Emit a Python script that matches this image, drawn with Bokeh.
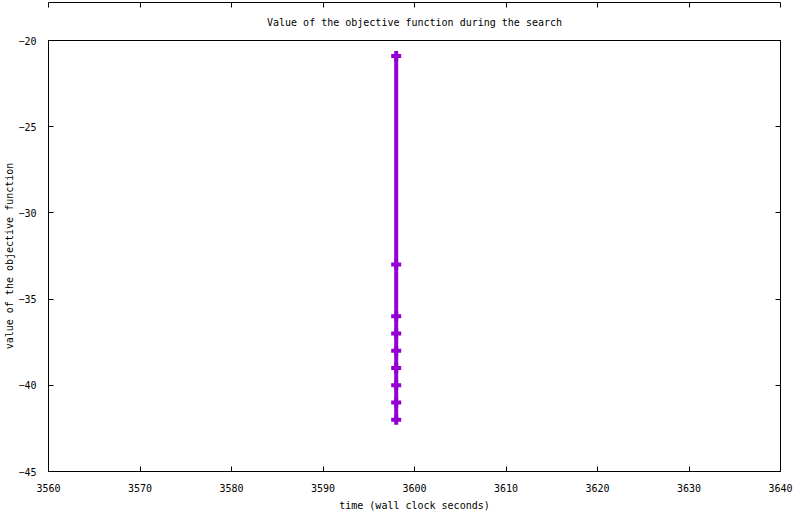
from bokeh.plotting import figure
from bokeh.models import LinearAxis, FixedTicker, Range1d, Title
from bokeh.embed import file_html
from bokeh.resources import INLINE

# data
times = [3598, 3598, 3598, 3598, 3598, 3598, 3598, 3598, 3598]
objective = [-20.9, -33, -36, -37, -38, -39, -40, -41, -42]
x_ticks = [3560, 3570, 3580, 3590, 3600, 3610, 3620, 3630, 3640]
y_ticks = [-45, -40, -35, -30, -25, -20]

FONT = "DejaVu Sans Mono"
COLOR = "#9400D3"

p = figure(width=800, height=514, output_backend="svg", toolbar_location=None,
           x_range=Range1d(3560, 3640), y_range=Range1d(-45, -20),
           min_border_left=48, min_border_right=20, min_border_top=40, min_border_bottom=43,
           x_axis_type=None, y_axis_type=None)
p.grid.visible = False
p.outline_line_color = "black"
p.outline_line_width = 1
p.background_fill_color = "white"
p.border_fill_color = "white"

t = Title(text="Value of the objective function during the search", align="center",
          text_font=FONT, text_font_size="10px", text_font_style="normal",
          text_color="black", standoff=25)
p.add_layout(t, "above")


def make_axis(ticks, labels=True, label_text=None, standoff=9, label_standoff=2):
    ax = LinearAxis(ticker=FixedTicker(ticks=ticks))
    ax.major_tick_in = 5
    ax.major_tick_out = 0
    ax.minor_tick_in = 0
    ax.minor_tick_out = 0
    ax.axis_line_color = "black"
    ax.major_tick_line_color = "black"
    ax.major_label_text_font = FONT
    ax.major_label_text_font_size = "10px"
    ax.major_label_text_color = "black"
    ax.major_label_standoff = standoff
    if not labels:
        ax.major_label_text_alpha = 0
        ax.major_label_text_font_size = "0px"
        ax.major_label_standoff = 0
    if label_text:
        ax.axis_label = label_text
        ax.axis_label_text_font = FONT
        ax.axis_label_text_font_size = "10px"
        ax.axis_label_text_font_style = "normal"
        ax.axis_label_text_color = "black"
        ax.axis_label_standoff = label_standoff
    return ax


p.add_layout(make_axis(x_ticks, True, "time (wall clock seconds)", standoff=12, label_standoff=5), "below")
p.add_layout(make_axis(y_ticks, True, "value of the objective function", standoff=12, label_standoff=0), "left")
p.add_layout(make_axis(x_ticks, False), "above")
p.add_layout(make_axis(y_ticks, False), "right")

p.line(times, objective, line_color=COLOR, line_width=4)
p.scatter(times, objective, marker="cross", size=10, line_color=COLOR, line_width=4)

open("out.html", "w").write(file_html(p, INLINE))
